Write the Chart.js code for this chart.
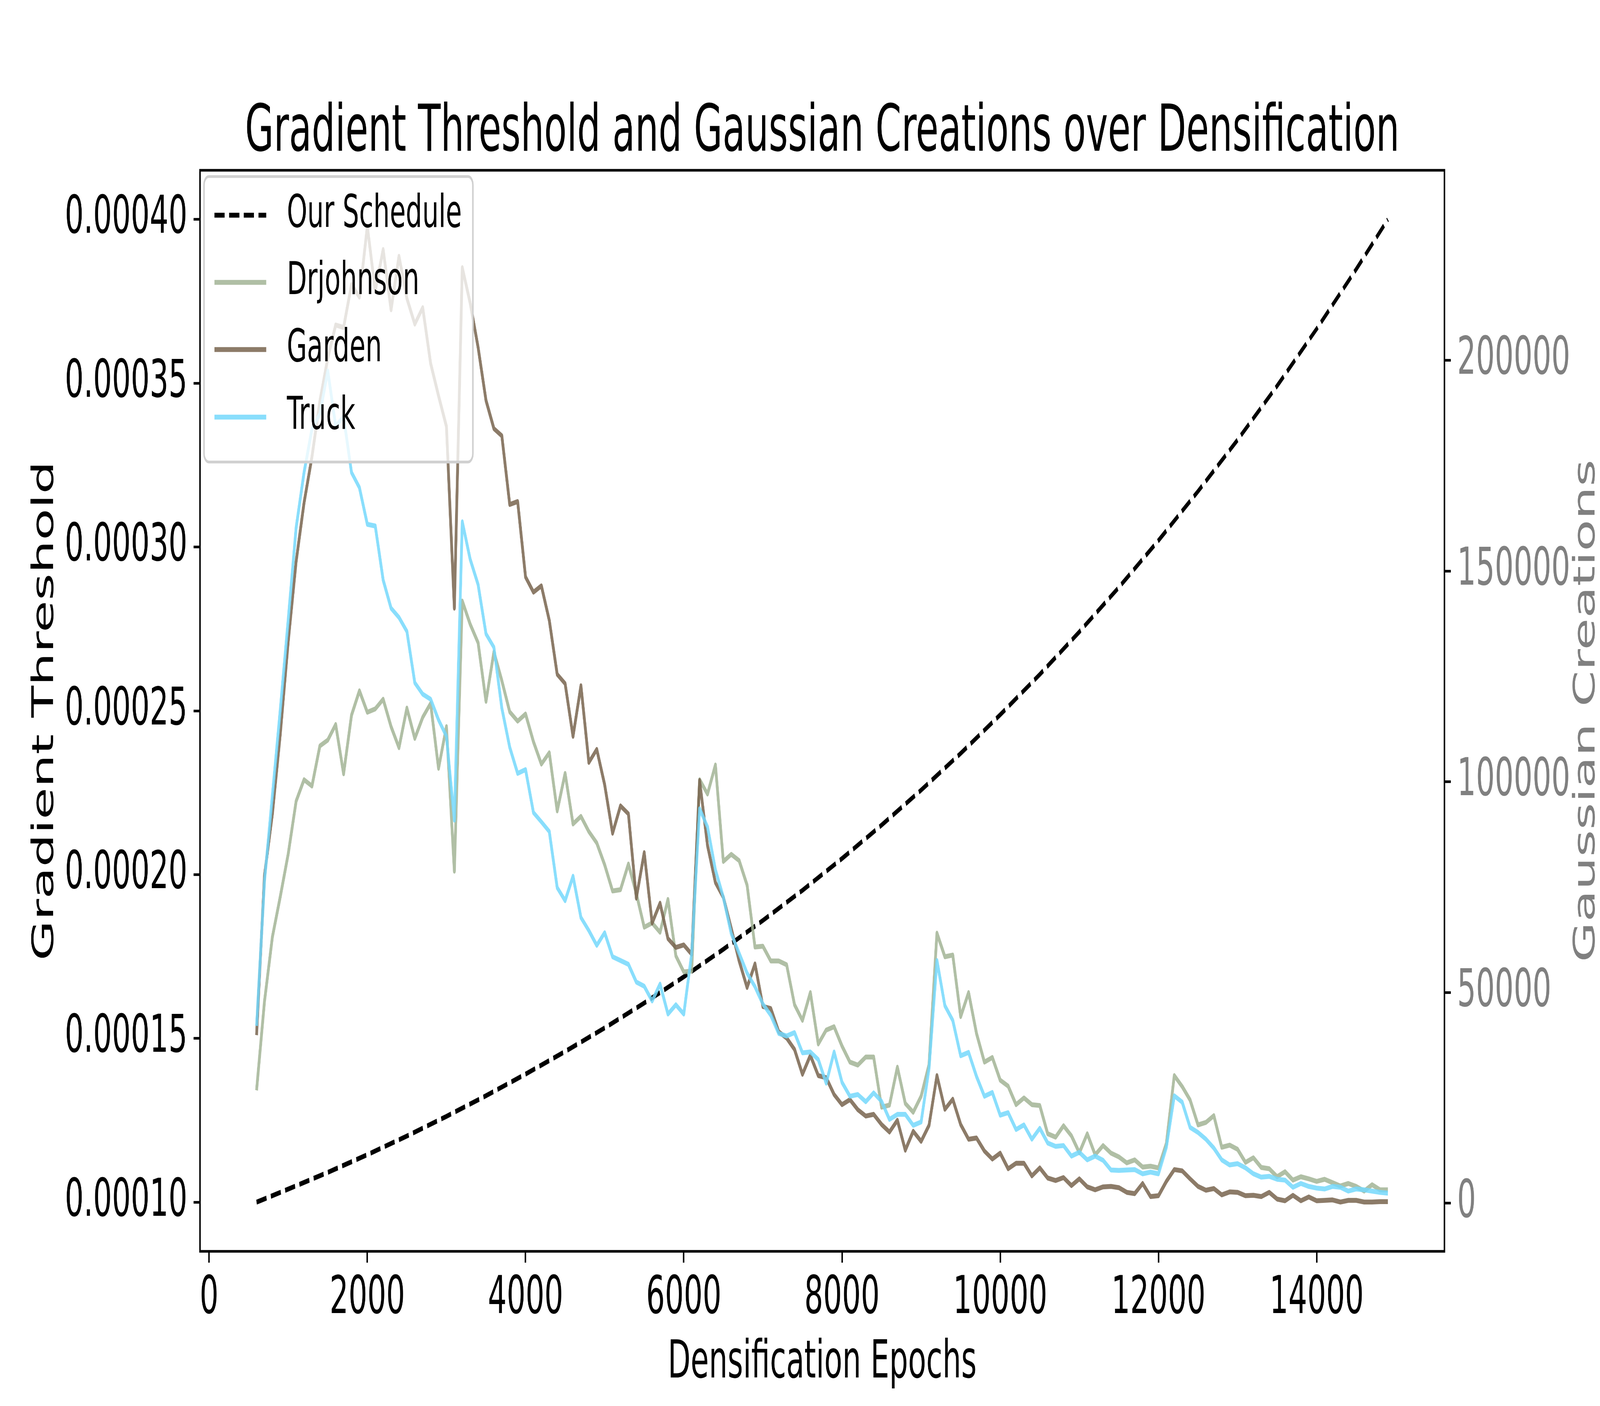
<!DOCTYPE html>
<html lang="en">
<head>
<meta charset="UTF-8">
<title>Gradient Threshold and Gaussian Creations over Densification</title>
<script src="https://cdn.jsdelivr.net/npm/chart.js@4.4.1/dist/chart.umd.min.js"></script>
<style>
  html, body { margin: 0; padding: 0; background: #fff; overflow: hidden; }
  #chart { display: block; }
</style>
</head>
<body>
<canvas id="chart" width="7200" height="3600"></canvas>
<script>
// densification epochs (one point every 100 epochs)
const epochs = [
  600, 700, 800, 900, 1000, 1100, 1200, 1300, 1400, 1500,
  1600, 1700, 1800, 1900, 2000, 2100, 2200, 2300, 2400, 2500,
  2600, 2700, 2800, 2900, 3000, 3100, 3200, 3300, 3400, 3500,
  3600, 3700, 3800, 3900, 4000, 4100, 4200, 4300, 4400, 4500,
  4600, 4700, 4800, 4900, 5000, 5100, 5200, 5300, 5400, 5500,
  5600, 5700, 5800, 5900, 6000, 6100, 6200, 6300, 6400, 6500,
  6600, 6700, 6800, 6900, 7000, 7100, 7200, 7300, 7400, 7500,
  7600, 7700, 7800, 7900, 8000, 8100, 8200, 8300, 8400, 8500,
  8600, 8700, 8800, 8900, 9000, 9100, 9200, 9300, 9400, 9500,
  9600, 9700, 9800, 9900, 10000, 10100, 10200, 10300, 10400, 10500,
  10600, 10700, 10800, 10900, 11000, 11100, 11200, 11300, 11400, 11500,
  11600, 11700, 11800, 11900, 12000, 12100, 12200, 12300, 12400, 12500,
  12600, 12700, 12800, 12900, 13000, 13100, 13200, 13300, 13400, 13500,
  13600, 13700, 13800, 13900, 14000, 14100, 14200, 14300, 14400, 14500,
  14600, 14700, 14800, 14900
];

// Gaussian creations per densification step (right axis)
const drjohnson = [
  26800, 47900, 63200, 72800, 82900, 95400, 100500, 99000, 108500, 109900,
  113600, 101900, 115800, 121600, 116500, 117300, 119600, 113100, 108100, 117500,
  110300, 115300, 118600, 103200, 113100, 78800, 142900, 137400, 133000, 119100,
  130800, 124000, 116600, 114400, 116100, 109500, 104200, 106900, 93100, 102000,
  90000, 91800, 88200, 85500, 80300, 74100, 74400, 80500, 73500, 65500,
  66500, 64300, 72100, 58700, 54900, 55100, 100500, 97100, 104000, 81100,
  82800, 81300, 75500, 60800, 61000, 57500, 57500, 56600, 47100, 43400,
  50000, 37800, 41100, 41900, 37300, 33500, 32800, 34700, 34700, 22800,
  23300, 32300, 23700, 21600, 25400, 32900, 64100, 58500, 58900, 44300,
  50000, 40300, 33500, 34600, 29200, 27800, 23400, 25000, 23400, 23200,
  16500, 15700, 18400, 16000, 12000, 16500, 11500, 13700, 11900, 11000,
  9600, 10300, 8600, 8800, 8400, 14200, 30300, 27700, 24500, 18600,
  19200, 20800, 13300, 13800, 12800, 9700, 10800, 8500, 8200, 6300,
  7500, 5500, 6300, 5800, 5200, 5700, 4900, 4100, 4700, 4000,
  2900, 4400, 3200, 3200
];

const garden = [
  39900, 77800, 92400, 111400, 133300, 152300, 166200, 177100, 190300, 200500,
  208400, 207800, 218000, 215000, 231800, 216500, 226300, 212000, 224700, 214700,
  208600, 212500, 199300, 191600, 184300, 141200, 222000, 213600, 203100, 190500,
  183800, 182100, 165800, 166500, 148600, 145000, 146500, 138300, 125500, 123300,
  110800, 122800, 104600, 107700, 99300, 87800, 94300, 92400, 72400, 83200,
  66500, 71200, 62800, 60700, 61300, 59100, 100300, 84900, 76100, 72600,
  65200, 57500, 51200, 56800, 46700, 46200, 40700, 39200, 36500, 30600,
  35100, 30300, 29800, 25800, 23400, 24600, 22200, 20700, 21100, 18700,
  16900, 19700, 12600, 17100, 14700, 18500, 30300, 22300, 24700, 18700,
  15200, 15500, 12400, 10500, 11900, 8200, 9500, 9500, 6500, 8400,
  6000, 5400, 6100, 4200, 5800, 3900, 3200, 3900, 4000, 3700,
  2600, 2300, 4700, 1600, 1800, 5200, 8000, 7700, 5800, 4000,
  3100, 3500, 2000, 2700, 2600, 1800, 1900, 1600, 2600, 1000,
  600, 1900, 600, 1500, 600, 700, 800, 300, 700, 700,
  300, 300, 400, 400
];

const truck = [
  42100, 76400, 96800, 117200, 138500, 160300, 173400, 183700, 187300, 197500,
  184400, 186600, 173400, 169800, 161100, 160700, 147900, 141200, 139000, 135700,
  123500, 120800, 119600, 114700, 110800, 90900, 161700, 152800, 146800, 135100,
  131900, 117500, 108200, 102000, 102900, 92700, 90500, 88200, 74900, 71800,
  77600, 67800, 64700, 61200, 64200, 58500, 57600, 56700, 52500, 51500,
  48000, 52000, 44900, 47100, 44900, 59300, 93600, 89300, 79100, 72600,
  64000, 59300, 54600, 51400, 47300, 44600, 40300, 39700, 40500, 35700,
  35900, 34100, 28500, 35900, 28700, 25400, 25800, 24100, 26200, 24200,
  19900, 21100, 21100, 18500, 19300, 32000, 57600, 46900, 43400, 35000,
  35800, 30100, 25400, 26300, 20900, 21500, 17500, 18600, 15200, 17800,
  14300, 13500, 13700, 11200, 12100, 10300, 11200, 10200, 7900, 7800,
  7900, 8000, 7000, 7400, 7000, 13300, 25500, 24000, 18000, 16800,
  15200, 13100, 10300, 9100, 9400, 8400, 7000, 6200, 6400, 5700,
  5500, 3800, 4700, 4000, 3600, 3400, 4000, 3800, 2900, 3400,
  3200, 2900, 2600, 2400
];

// gradient threshold schedule (left axis), read every 500 epochs
const scheduleEpochs = [
  600, 1000, 1500, 2000, 2500, 3000, 3500, 4000, 4500, 5000,
  5500, 6000, 6500, 7000, 7500, 8000, 8500, 9000, 9500, 10000,
  10500, 11000, 11500, 12000, 12500, 13000, 13500, 14000, 14500, 14900
];
const scheduleValues = [
  0.0001000, 0.0001040, 0.0001091, 0.0001145, 0.0001202, 0.0001262, 0.0001325, 0.0001391, 0.0001460, 0.0001532,
  0.0001608, 0.0001688, 0.0001772, 0.0001860, 0.0001952, 0.0002049, 0.0002151, 0.0002258, 0.0002370, 0.0002488,
  0.0002611, 0.0002741, 0.0002877, 0.0003020, 0.0003170, 0.0003327, 0.0003492, 0.0003666, 0.0003848, 0.0004000
];

const xTicks = [0, 2000, 4000, 6000, 8000, 10000, 12000, 14000];
const leftTicks = [0.00010, 0.00015, 0.00020, 0.00025, 0.00030, 0.00035, 0.00040];
const rightTicks = [0, 50000, 100000, 150000, 200000];

const FONT = "'DejaVu Sans', 'Liberation Sans', sans-serif";

// the chart is drawn on a 7200 x 3600 canvas, then fitted to the viewport
const W = 7200, H = 3600;
const PLOT = { left: 900, right: 6500, top: 436, bottom: 3204 };

const colors = {
  schedule: '#000000',
  drjohnson: 'rgba(162, 180, 149, 0.85)',
  garden: 'rgba(120, 100, 77, 0.85)',
  truck: 'rgba(116, 216, 252, 0.85)'
};

function pairs(xs, ys) {
  return xs.map((x, i) => ({ x: x, y: ys[i] }));
}

const LW = 12.5;
const DASH = [46, 20];

const tickGrid = {
  display: true,
  drawOnChartArea: false,
  drawTicks: true,
  tickLength: 29,
  tickWidth: 6.7,
  tickColor: '#000'
};

function roundRect(ctx, x, y, w, h, r) {
  ctx.beginPath();
  ctx.moveTo(x + r, y);
  ctx.arcTo(x + w, y, x + w, y + h, r);
  ctx.arcTo(x + w, y + h, x, y + h, r);
  ctx.arcTo(x, y + h, x, y, r);
  ctx.arcTo(x, y, x + w, y, r);
  ctx.closePath();
}

const decorations = {
  id: 'decorations',
  afterDatasetsDraw(chart) {
    const ctx = chart.ctx;
    const a = chart.chartArea;
    ctx.save();
    // axes frame
    ctx.strokeStyle = '#000';
    ctx.lineWidth = 6.7;
    ctx.strokeRect(a.left, a.top, a.right - a.left, a.bottom - a.top);

    // legend box
    roundRect(ctx, 918, 452, 1210, 731, 22);
    ctx.fillStyle = 'rgba(255,255,255,0.8)';
    ctx.fill();
    ctx.strokeStyle = '#d0d0d0';
    ctx.lineWidth = 7;
    ctx.stroke();

    const items = [
      { label: 'Our Schedule', color: colors.schedule, dash: DASH },
      { label: 'Drjohnson', color: colors.drjohnson, dash: [] },
      { label: 'Garden', color: colors.garden, dash: [] },
      { label: 'Truck', color: colors.truck, dash: [] }
    ];
    const rowY = [551, 723, 895, 1068];
    ctx.font = '116.7px ' + FONT;
    ctx.textAlign = 'left';
    ctx.textBaseline = 'middle';
    items.forEach((it, i) => {
      ctx.beginPath();
      ctx.setLineDash(it.dash);
      ctx.strokeStyle = it.color;
      ctx.lineWidth = LW;
      ctx.moveTo(965, rowY[i]);
      ctx.lineTo(1198, rowY[i]);
      ctx.stroke();
      ctx.setLineDash([]);
      ctx.fillStyle = '#000';
      ctx.fillText(it.label, 1291, rowY[i]);
    });
    ctx.restore();
  },
  afterDraw(chart) {
    const ctx = chart.ctx;
    const a = chart.chartArea;
    const cx = (a.left + a.right) / 2;
    const cy = (a.top + a.bottom) / 2;
    ctx.save();
    ctx.textBaseline = 'alphabetic';
    ctx.textAlign = 'center';

    ctx.fillStyle = '#000';
    ctx.font = '166.7px ' + FONT;
    ctx.fillText('Gradient Threshold and Gaussian Creations over Densification', cx, 386);

    ctx.font = '133.3px ' + FONT;
    ctx.fillText('Densification Epochs', cx, 3527);

    ctx.save();
    ctx.translate(239, cy);
    ctx.rotate(-Math.PI / 2);
    ctx.fillText('Gradient Threshold', 0, 0);
    ctx.restore();

    ctx.save();
    ctx.fillStyle = '#808080';
    ctx.translate(7175, cy);
    ctx.rotate(-Math.PI / 2);
    ctx.fillText('Gaussian Creations', 0, 0);
    ctx.restore();

    ctx.restore();
  }
};

const canvas = document.getElementById('chart');

new Chart(canvas.getContext('2d'), {
  type: 'line',
  data: {
    datasets: [
      {
        label: 'Our Schedule',
        data: pairs(scheduleEpochs, scheduleValues),
        yAxisID: 'y',
        borderColor: colors.schedule,
        borderDash: DASH,
        order: 4
      },
      {
        label: 'Drjohnson',
        data: pairs(epochs, drjohnson),
        yAxisID: 'y2',
        borderColor: colors.drjohnson,
        order: 3
      },
      {
        label: 'Garden',
        data: pairs(epochs, garden),
        yAxisID: 'y2',
        borderColor: colors.garden,
        order: 2
      },
      {
        label: 'Truck',
        data: pairs(epochs, truck),
        yAxisID: 'y2',
        borderColor: colors.truck,
        order: 1
      }
    ]
  },
  options: {
    responsive: false,
    animation: false,
    devicePixelRatio: 1,
    layout: { padding: { top: PLOT.top, left: 0, right: 0, bottom: 0 } },
    plugins: {
      legend: { display: false },
      title: { display: false },
      tooltip: { enabled: false }
    },
    elements: {
      point: { radius: 0 },
      line: { tension: 0, borderWidth: LW, borderJoinStyle: 'round', fill: false }
    },
    scales: {
      x: {
        type: 'linear',
        min: -115,
        max: 15615,
        afterFit: sc => { sc.height = H - PLOT.bottom; },
        afterBuildTicks: ax => { ax.ticks = xTicks.map(v => ({ value: v })); },
        grid: tickGrid,
        border: { display: false },
        ticks: {
          autoSkip: false,
          maxRotation: 0,
          padding: 14,
          color: '#000',
          font: { family: FONT, size: 133.3 },
          callback: v => String(v)
        }
      },
      y: {
        type: 'linear',
        position: 'left',
        min: 0.000085,
        max: 0.000415,
        afterFit: sc => { sc.width = PLOT.left; },
        afterBuildTicks: ax => { ax.ticks = leftTicks.map(v => ({ value: v })); },
        grid: tickGrid,
        border: { display: false },
        ticks: {
          padding: 28,
          color: '#000',
          font: { family: FONT, size: 133.3 },
          callback: v => Number(v).toFixed(5)
        }
      },
      y2: {
        type: 'linear',
        position: 'right',
        min: -11400,
        max: 245100,
        afterFit: sc => { sc.width = W - PLOT.right; },
        afterBuildTicks: ax => { ax.ticks = rightTicks.map(v => ({ value: v })); },
        grid: tickGrid,
        border: { display: false },
        ticks: {
          padding: 28,
          color: '#808080',
          font: { family: FONT, size: 133.3 },
          callback: v => String(v)
        }
      }
    }
  },
  plugins: [decorations]
});

// fit the finished 7200 x 3600 drawing to the browser window
canvas.style.width = window.innerWidth + 'px';
canvas.style.height = window.innerHeight + 'px';
</script>
</body>
</html>
